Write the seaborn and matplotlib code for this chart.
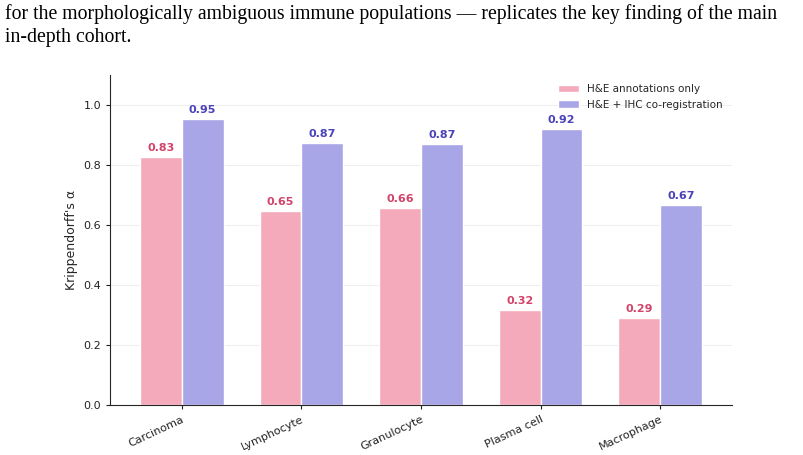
import pandas as pd
import seaborn as sns
import matplotlib.pyplot as plt

# === Data ===
cell_types = ["Carcinoma", "Lymphocyte", "Granulocyte", "Plasma cell", "Macrophage"]
he_only = [0.826, 0.646, 0.656, 0.316, 0.290]
he_ihc = [0.953, 0.872, 0.870, 0.919, 0.667]
series_names = ["H&E annotations only", "H&E + IHC co-registration"]

df = pd.DataFrame({
    "cell": cell_types * 2,
    "alpha": he_only + he_ihc,
    "setting": [series_names[0]] * len(cell_types) + [series_names[1]] * len(cell_types),
})

bar_colors = ["#F4AABA", "#A8A6E6"]
text_colors = ["#D2436A", "#4A42B8"]

sns.set_style("white")
plt.rcParams["font.family"] = ["DejaVu Sans"]

fig = plt.figure(figsize=(8.04, 4.55), dpi=100)
ax = fig.add_axes([0.1368, 0.1099, 0.7736, 0.7251])

sns.barplot(data=df, x="cell", y="alpha", hue="setting", palette=bar_colors,
            saturation=1, width=0.7, edgecolor="white", linewidth=1, ax=ax)

for cont, col in zip(ax.containers, text_colors):
    ax.bar_label(cont, fmt="%.2f", padding=3, color=col, fontsize=8, fontweight="bold")

ax.set_ylim(0, 1.1)
ax.set_xlim(-0.6, 4.6)
ax.set_yticks([0.0, 0.2, 0.4, 0.6, 0.8, 1.0])
ax.yaxis.grid(True, color="#EEEEEE", linewidth=0.8)
ax.set_axisbelow(True)
ax.set_xlabel("")
ax.set_ylabel("Krippendorff's α", fontsize=9)
ax.tick_params(axis="both", labelsize=8, length=3, left=True, bottom=True, colors="#222222")
plt.setp(ax.get_xticklabels(), rotation=25, ha="right", rotation_mode="anchor")
sns.despine(ax=ax)

leg = ax.legend(loc="upper right", frameon=False, fontsize=7.5, title=None,
                bbox_to_anchor=(1.0, 1.0))

# === Caption fragment above the chart ===
fig.text(0.006, 0.99, "for the morphologically ambiguous immune populations — replicates the key finding of the main\nin-depth cohort.",
         family="Liberation Serif", fontsize=14.2, va="top", ha="left", linespacing=1.22,
         color="black")

fig.savefig("out.png", dpi=100)
